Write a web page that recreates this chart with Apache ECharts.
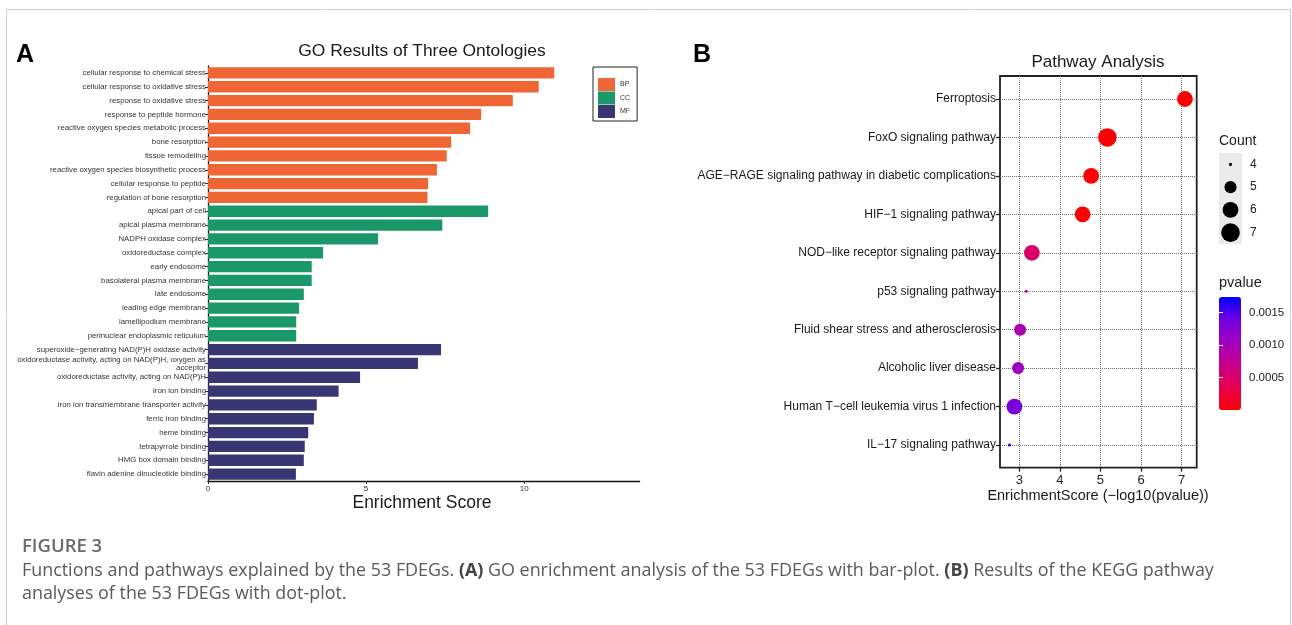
<!DOCTYPE html>
<html><head><meta charset="utf-8">
<script src="https://cdn.jsdelivr.net/npm/echarts@6/dist/echarts.min.js"></script>
<style>html,body{margin:0;padding:0;background:#fff}#c{width:1292px;height:625px}</style>
</head><body><div id="c"></div>
<script>
// ---------- Panel A data (GO) ----------
const bpTerms = ['cellular response to chemical stress','cellular response to oxidative stress','response to oxidative stress','response to peptide hormone','reactive oxygen species metabolic process','bone resorption','tissue remodeling','reactive oxygen species biosynthetic process','cellular response to peptide','regulation of bone resorption'];
const bpScores = [10.95, 10.46, 9.64, 8.64, 8.29, 7.69, 7.55, 7.24, 6.96, 6.94];
const ccTerms = ['apical part of cell','apical plasma membrane','NADPH oxidase complex','oxidoreductase complex','early endosome','basolateral plasma membrane','late endosome','leading edge membrane','lamellipodium membrane','perinuclear endoplasmic reticulum'];
const ccScores = [8.86, 7.41, 5.38, 3.64, 3.28, 3.28, 3.03, 2.88, 2.79, 2.79];
const mfTerms = ['superoxide\u2212generating NAD(P)H oxidase activity','oxidoreductase activity, acting on NAD(P)H, oxygen as\nacceptor','oxidoreductase activity, acting on NAD(P)H','iron ion binding','iron ion transmembrane transporter activity','ferric iron binding','heme binding','tetrapyrrole binding','HMG box domain binding','flavin adenine dinucleotide binding'];
const mfScores = [7.37, 6.64, 4.81, 4.13, 3.44, 3.35, 3.17, 3.06, 3.03, 2.78];
const goGroups = ['BP','CC','MF'];
const goXTicks = [0, 5, 10];

// ---------- Panel B data (KEGG) ----------
const pathways = ['Ferroptosis','FoxO signaling pathway','AGE\u2212RAGE signaling pathway in diabetic complications','HIF\u22121 signaling pathway','NOD\u2212like receptor signaling pathway','p53 signaling pathway','Fluid shear stress and atherosclerosis','Alcoholic liver disease','Human T\u2212cell leukemia virus 1 infection','IL\u221217 signaling pathway'];
const enrichScores = [7.08, 5.17, 4.77, 4.56, 3.31, 3.17, 3.02, 2.97, 2.88, 2.76];
const counts = [6, 7, 6, 6, 6, 4, 5, 5, 6, 4];
const pvalues = [0.00000008, 0.0000068, 0.000017, 0.0000275, 0.00049, 0.00068, 0.00095, 0.00107, 0.00132, 0.00174];
const keggXTicks = [3, 4, 5, 6, 7];
const legendCounts = [4, 5, 6, 7];
const pvTicks = [0.0005, 0.0010, 0.0015];

// ---------- build ----------
const FF = "'Liberation Sans', Arial, Helvetica, sans-serif";
const CF = "'Open Sans', 'Noto Sans', sans-serif";
const goColors = {BP:'#ee6634', CC:'#1b9869', MF:'#363773'};
const goTerms = bpTerms.concat(ccTerms, mfTerms);
const goScores = bpScores.concat(ccScores, mfScores);
const goGroupOf = bpTerms.map(()=> 'BP').concat(ccTerms.map(()=> 'CC'), mfTerms.map(()=> 'MF'));

const cMin = Math.min(...counts), cMax = Math.max(...counts);
function sizeOf(c){ return 3.1 * (1 + 5 * Math.sqrt((c - cMin) / (cMax - cMin))); }

const goSeries = goGroups.map(g => ({
  type:'bar', name:g, stack:'go', xAxisIndex:0, yAxisIndex:0,
  barCategoryGap:'18%',
  itemStyle:{color:goColors[g]},
  data: goTerms.map((t,i)=> goGroupOf[i]===g ? goScores[i] : '-')
}));

const chart = echarts.init(document.getElementById('c'), null, {renderer:'canvas'});
const option = {
  animation:false,
  backgroundColor:'#fff',
  textStyle:{fontFamily:FF},
  legend:{
    data:goGroups, orient:'vertical', left:593, top:67, icon:'rect',
    itemWidth:17, itemHeight:13, itemGap:0.5, selectedMode:false,
    padding:[11,7,3,5], borderColor:'#222', borderWidth:1,
    textStyle:{fontSize:7, color:'#333', fontFamily:FF}
  },
  grid:[
    {left:208, top:66, width:431.6, height:415},
    {left:1000, top:76, width:196.7, height:391.7, show:true, borderColor:'#222', borderWidth:1.8, backgroundColor:'transparent'},
    {left:1000, top:99, width:196.7, height:346},
    {left:1219, top:153, width:23, height:91, show:true, backgroundColor:'#ebebeb', borderWidth:0},
    {left:1219, top:297, width:22, height:113}
  ],
  xAxis:[
    {gridIndex:0, type:'value', min:0, max:13.65, interval:5,
     axisLine:{show:true, lineStyle:{color:'#111', width:1.3}},
     axisTick:{show:true, length:3, customValues:goXTicks, lineStyle:{color:'#333'}},
     axisLabel:{customValues:goXTicks, fontSize:8, color:'#333', margin:4},
     splitLine:{show:false}},
    {gridIndex:1, type:'value', min:2.525, max:7.37,
     axisLine:{show:false},
     axisTick:{show:true, length:4, customValues:keggXTicks, lineStyle:{color:'#222', width:1.3}},
     axisLabel:{customValues:keggXTicks, fontSize:13, color:'#222', margin:6},
     splitLine:{show:true, lineStyle:{color:'#6e6e6e', type:'dotted', width:1}}},
    {gridIndex:2, type:'value', min:2.525, max:7.37, show:false},
    {gridIndex:3, type:'value', min:0, max:1, show:false},
    {gridIndex:4, type:'value', min:0, max:1, show:false}
  ],
  yAxis:[
    {gridIndex:0, type:'category', data:goTerms, inverse:true,
     axisLine:{show:true, lineStyle:{color:'#111', width:1.3}},
     axisTick:{show:true, length:3, alignWithLabel:true, lineStyle:{color:'#333'}},
     axisLabel:{fontSize:7.8, color:'#333', margin:2, lineHeight:8, interval:0}},
    {gridIndex:1, type:'value', min:0, max:1, show:false},
    {gridIndex:2, type:'category', data:pathways, inverse:true, boundaryGap:false,
     axisLine:{show:false},
     axisTick:{show:true, length:4, lineStyle:{color:'#222', width:1.3}},
     axisLabel:{fontSize:12, color:'#1a1a1a', margin:4, interval:0},
     splitLine:{show:true, interval:0, lineStyle:{color:'#6e6e6e', type:'dotted', width:1}}},
    {gridIndex:3, type:'category', data:legendCounts.map(String), inverse:true, position:'right',
     axisLine:{show:false}, axisTick:{show:false},
     axisLabel:{fontSize:12, color:'#222', margin:8}, splitLine:{show:false}},
    {gridIndex:4, type:'value', min:0, max:0.00174, position:'right', z:10,
     axisLine:{show:false},
     axisTick:{show:true, inside:true, length:4, customValues:pvTicks, lineStyle:{color:'#fff', width:1}},
     axisLabel:{customValues:pvTicks, formatter:v=>v.toFixed(4), fontSize:11.5, color:'#222', margin:8},
     splitLine:{show:false}},
    {gridIndex:4, type:'value', min:0, max:0.00174, position:'left', z:10,
     axisLine:{show:false},
     axisTick:{show:true, inside:true, length:4, customValues:pvTicks, lineStyle:{color:'#fff', width:1}},
     axisLabel:{show:false}, splitLine:{show:false}}
  ],
  visualMap:[{
    type:'continuous', seriesIndex:3, dimension:3, min:0, max:0.00174,
    inRange:{color:['#ff0000','#e5004f','#c7008a','#a100c0','#7200e2','#0000ff']},
    left:1219, top:297, itemWidth:22, itemHeight:113, padding:0,
    calculable:false, hoverLink:false, orient:'vertical', z:4
  }],
  series: goSeries.concat([
    {type:'scatter', name:'KEGG', xAxisIndex:2, yAxisIndex:2,
     data: pathways.map((p,i)=>[enrichScores[i], p, counts[i], pvalues[i]]),
     symbolSize: v => sizeOf(v[2]), itemStyle:{opacity:1}, z:5},
    {type:'scatter', name:'CountLegend', xAxisIndex:3, yAxisIndex:3,
     data: legendCounts.map(c=>[0.5, String(c), c]),
     symbolSize: v => sizeOf(v[2]), itemStyle:{color:'#000', opacity:1}}
  ]),
  graphic:[
    {type:'rect', shape:{x:6.5, y:9.5, width:1284, height:640}, style:{fill:'none', stroke:'#cfcfcf', lineWidth:1}, silent:true},
    {type:'text', x:16, y:55, style:{text:'A', fontSize:25, fontWeight:'bold', fontFamily:FF, fill:'#000', align:'left', verticalAlign:'middle'}},
    {type:'text', x:693, y:55, style:{text:'B', fontSize:25, fontWeight:'bold', fontFamily:FF, fill:'#000', align:'left', verticalAlign:'middle'}},
    {type:'text', x:422, y:51, style:{text:'GO Results of Three Ontologies', fontSize:17.4, fontFamily:FF, fill:'#1a1a1a', align:'center', verticalAlign:'middle'}},
    {type:'text', x:422, y:503, style:{text:'Enrichment Score', fontSize:17.5, fontFamily:FF, fill:'#1a1a1a', align:'center', verticalAlign:'middle'}},
    {type:'text', x:1098, y:62, style:{text:'Pathway Analysis', fontSize:17, fontFamily:FF, fill:'#1a1a1a', align:'center', verticalAlign:'middle'}},
    {type:'text', x:1098, y:496, style:{text:'EnrichmentScore (\u2212log10(pvalue))', fontSize:14.5, fontFamily:FF, fill:'#1a1a1a', align:'center', verticalAlign:'middle'}},
    {type:'text', x:1219, y:141, style:{text:'Count', fontSize:14, fontFamily:FF, fill:'#1a1a1a', align:'left', verticalAlign:'middle'}},
    {type:'text', x:1219, y:283, style:{text:'pvalue', fontSize:14.5, fontFamily:FF, fill:'#1a1a1a', align:'left', verticalAlign:'middle'}},
    {type:'text', x:22, y:547, style:{text:'FIGURE 3', fontSize:18.5, fontWeight:600, fontFamily:CF, fill:'#6a6a6a', align:'left', verticalAlign:'middle'}},
    {type:'text', x:22, y:571, style:{text:'Functions and pathways explained by the 53 FDEGs. {b|(A)} GO enrichment analysis of the 53 FDEGs with bar-plot. {b|(B)} Results of the KEGG pathway', fontSize:17.9, fontFamily:CF, fill:'#5a5a5a', align:'left', verticalAlign:'middle', rich:{b:{fontSize:17.9, fontFamily:CF, fontWeight:'bold', fill:'#444'}}}},
    {type:'text', x:22, y:594, style:{text:'analyses of the 53 FDEGs with dot-plot.', fontSize:17.9, fontFamily:CF, fill:'#5a5a5a', align:'left', verticalAlign:'middle'}}
  ]
};
chart.setOption(option);
</script>
</body></html>
